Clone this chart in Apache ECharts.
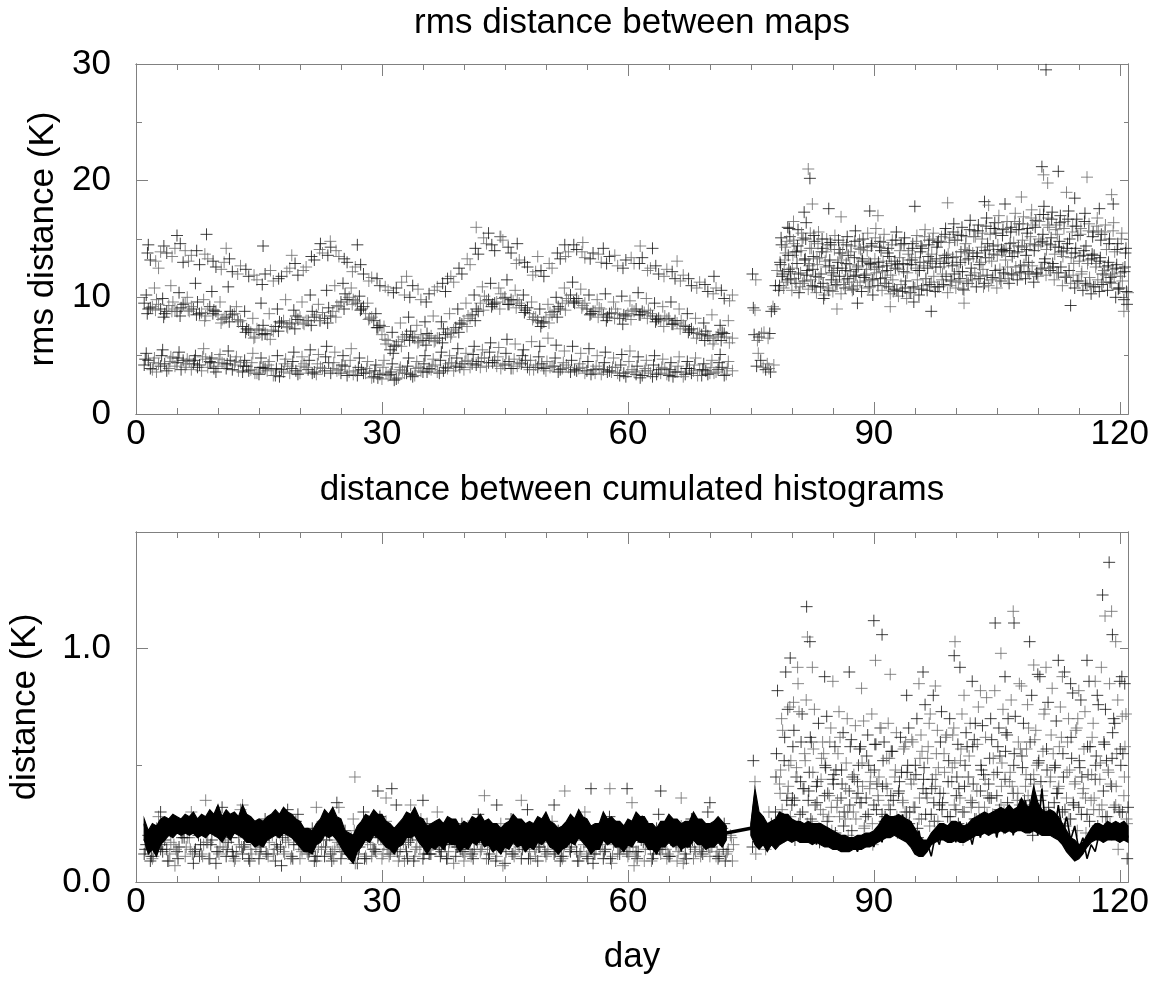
<!DOCTYPE html>
<html><head><meta charset="utf-8">
<script src="https://cdn.jsdelivr.net/npm/echarts@6/dist/echarts.min.js"></script>
<style>html,body{margin:0;padding:0;background:#fff}#c{width:1158px;height:981px}</style>
</head><body><div id="c"></div>
<script>
// ---------------- axis / tick data ----------------
const dayMin = 0, dayMax = 121;
const xTickValues = [0, 30, 60, 90, 120];
const xTickLabels = ['0', '30', '60', '90', '120'];
const topYMax = 30, topYTickValues = [0, 10, 20, 30], topYTickLabels = ['0', '10', '20', '30'];
const botYMax = 1.5, botYTickValues = [0, 1], botYTickLabels = ['0.0', '1.0'];
const topTitle = 'rms distance between maps';
const botTitle = 'distance between cumulated histograms';
const topYName = 'rms distance (K)';
const botYName = 'distance (K)';
const xName = 'day';

// ---------------- top panel: rms distance (K) ----------------
const topLowA_start = 1, topLowA_step = 1;
const topLowA = [4.2,3.8,4.1,3.9,4.4,4.0,4.3,3.7,4.5,4.1,3.9,4.2,3.6,3.8,3.4,3.7,3.3,3.6,3.9,3.5,3.8,3.4,3.7,3.9,3.5,3.6,3.3,3.5,3.2,3.0,3.4,3.1,3.5,3.3,3.6,3.8,3.5,3.9,4.1,3.8,4.3,4.0,4.4,4.1,4.2,3.9,4.3,3.8,4.0,3.7,4.1,3.9,3.6,3.9,3.7,3.5,3.8,3.6,3.3,3.6,3.4,3.7,3.2,3.5,3.3,3.6,3.4,3.7,3.3,3.5,3.8,3.4];
const topLowB_start = 1.5, topLowB_step = 1;
const topLowB = [4.6,3.6,4.3,4.8,3.8,4.5,4.0,4.7,3.9,4.4,4.6,3.7,4.1,3.5,4.0,3.8,3.2,4.1,3.7,4.3,3.5,4.0,4.4,3.7,4.1,3.4,3.8,3.6,3.1,3.5,2.9,3.7,3.4,4.0,3.6,4.2,3.7,4.4,4.0,4.6,4.2,4.8,4.4,3.9,4.5,4.1,4.6,3.8,4.3,4.0,3.6,4.2,3.8,4.0,3.4,3.9,3.6,4.0,3.5,3.8,3.1,3.7,3.4,3.9,3.2,3.6,3.9,3.3,3.7,3.5,4.0];
const topLowC_start = 1.25, topLowC_step = 1;
const topLowC = [5.2,4.8,5.5,4.9,5.3,4.7,5.0,5.6,4.8,5.1,5.4,4.9,4.6,5.2,4.8,4.5,5.0,4.7,5.3,4.9,5.5,5.1,5.8,5.3,5.0,5.6,4.8,4.5,4.2,4.6,4.3,4.0,4.8,4.5,5.0,4.7,5.3,5.0,5.6,5.2,5.8,5.5,6.1,5.7,6.4,6.0,5.5,6.2,5.8,6.5,5.9,5.4,5.8,5.2,5.6,5.0,5.3,4.8,5.1,5.4,4.9,4.6,5.0,4.7,4.4,4.9,4.5,4.8,4.3,4.6,5.1,4.5];
const topLowD_start = 1.75, topLowD_step = 1;
const topLowD = [3.9,4.3,3.7,4.1,4.6,3.8,4.2,4.0,3.6,4.3,3.8,4.4,3.7,3.5,3.9,3.3,3.8,3.5,3.4,4.0,3.6,3.9,3.5,3.8,3.3,3.7,3.5,3.1,3.4,3.3,3.0,3.5,3.2,3.7,3.9,3.6,4.0,3.7,4.3,4.0,4.5,4.1,4.6,4.3,3.9,4.4,4.0,4.2,3.9,4.1,3.8,4.0,3.7,3.5,3.8,3.4,3.7,3.5,3.2,3.6,3.3,3.5,3.8,3.4,3.6,3.2,3.5,3.8,3.4,3.6,3.3,3.7];
const topLowE_start = 1.125, topLowE_step = 1;
const topLowE = [4.7,4.4,5.0,4.5,4.8,4.3,4.6,4.9,4.4,4.7,4.3,4.5,4.1,4.4,4.0,4.2,3.9,4.3,4.5,4.1,4.6,4.3,4.9,4.4,4.2,4.6,4.0,3.9,3.7,4.0,3.6,3.8,4.1,3.9,4.3,4.1,4.6,4.3,4.8,4.5,5.1,4.8,5.3,4.9,5.2,4.7,5.0,4.6,4.9,4.5,4.8,4.4,4.6,4.3,4.5,4.1,4.4,4.0,4.2,4.5,4.1,3.9,4.2,4.0,3.8,4.1,3.9,4.2,3.8,4.0,4.4,3.9];
const topMidA_start = 1, topMidA_step = 1;
const topMidA = [9.5,9.2,9.0,9.3,8.8,9.5,9.0,8.7,9.2,8.5,8.3,8.6,7.5,7.0,7.2,6.8,7.5,8.0,7.8,8.3,8.0,8.5,8.2,8.8,9.6,10.0,9.5,8.6,8.0,6.8,5.5,6.2,6.8,6.5,6.3,6.7,6.5,7.0,7.4,8.0,8.5,9.5,9.8,9.6,10.0,9.7,9.3,8.6,8.0,8.3,8.8,9.5,10.2,9.7,9.0,8.8,8.5,8.7,8.2,8.6,9.0,8.7,8.4,8.0,8.2,7.8,7.5,7.0,6.8,6.5,6.8,6.6];
const topMidB_start = 1.5, topMidB_step = 1;
const topMidB = [9.0,9.8,8.6,9.6,9.1,8.8,9.6,8.4,8.9,8.1,8.8,7.9,7.3,6.6,7.6,7.2,7.9,7.4,8.4,7.7,8.8,8.0,9.1,9.3,10.3,9.8,9.0,8.2,7.4,6.0,5.8,6.6,7.1,6.2,6.9,6.3,7.3,6.9,7.8,8.4,9.0,10.1,9.4,10.3,9.4,9.8,8.9,8.3,7.8,8.7,9.2,9.9,9.5,9.3,8.6,9.1,8.3,9.0,8.5,8.9,8.5,8.9,8.1,8.4,7.7,8.0,7.2,6.9,7.1,6.3,7.0];
const topMidC_start = 1.25, topMidC_step = 1;
const topMidC = [10.2,10.8,9.9,11.0,10.4,10.0,11.2,9.8,10.5,9.6,10.9,9.2,8.8,8.2,9.5,8.6,9.0,9.8,8.9,9.6,10.2,9.4,10.6,11.0,11.2,10.8,10.1,9.5,8.6,7.5,7.0,7.8,8.3,7.6,7.9,8.4,7.9,8.6,9.0,9.5,10.2,10.9,11.2,10.8,11.5,10.6,10.2,9.6,9.0,9.4,10.0,10.8,11.3,10.7,10.2,9.8,10.3,9.6,10.1,9.7,10.4,9.9,9.5,9.2,9.6,9.0,8.6,8.2,7.8,8.5,7.6,8.0];
const topMidD_start = 1.75, topMidD_step = 1;
const topMidD = [9.1,9.4,8.8,9.0,9.4,9.2,8.6,9.0,8.8,8.2,8.5,8.0,7.2,7.3,6.9,7.1,7.8,7.7,8.1,8.0,8.3,8.7,8.4,9.2,9.8,9.7,9.2,8.3,7.6,6.3,5.9,6.4,6.6,6.8,6.5,6.5,6.8,7.2,7.7,8.2,8.8,9.7,9.5,9.9,9.8,9.5,9.1,8.3,7.9,8.5,9.0,9.7,9.9,9.5,8.8,9.0,8.6,8.6,8.4,8.8,8.8,8.6,8.2,8.1,8.0,7.6,7.3,6.9,6.7,6.6,6.9,6.5];
const topMidE_start = 1.375, topMidE_step = 1;
const topMidE = [8.6,8.9,8.3,8.8,8.4,8.9,8.5,8.0,8.6,7.8,7.9,8.1,7.0,6.5,6.8,6.4,7.1,7.5,7.3,7.8,7.6,8.0,7.8,8.3,9.0,9.4,8.9,8.1,7.4,6.4,5.2,5.8,6.3,6.1,5.9,6.2,6.1,6.6,7.0,7.5,8.0,8.9,9.2,9.0,9.4,9.1,8.7,8.1,7.5,7.8,8.3,8.9,9.6,9.1,8.5,8.3,8.0,8.2,7.7,8.1,8.5,8.2,7.9,7.5,7.7,7.3,7.0,6.5,6.3,6.0,6.3,6.1];
const topUpA_start = 1.75, topUpA_step = 1;
const topUpA = [13.2,12.5,13.8,14.2,13.0,13.6,12.8,13.3,12.6,13.0,12.2,12.7,11.8,11.5,12.0,11.4,11.8,12.5,11.9,12.6,13.2,13.8,14.3,13.5,13.0,12.6,12.0,11.7,11.0,10.6,10.8,10.2,11.0,9.8,10.3,10.9,10.5,11.3,12.0,12.8,13.7,14.6,14.0,14.9,13.8,13.2,12.6,12.2,11.8,12.5,13.3,13.9,14.1,13.4,13.8,13.0,13.5,12.7,13.2,12.9,13.4,12.5,12.0,12.4,11.6,11.9,11.0,11.3,10.5,10.8,9.9,10.2];
const topUpB_start = 1.4, topUpB_step = 1;
const topUpB = [13.8,13.1,14.4,13.5,14.6,13.1,14.0,13.7,13.1,12.4,13.3,12.0,12.4,11.9,11.1,12.3,11.6,12.2,12.9,12.3,13.5,14.1,13.6,14.0,13.3,12.2,12.8,11.4,11.6,10.9,10.4,11.3,10.0,10.7,9.6,10.6,11.2,11.8,12.5,13.3,14.2,15.1,14.5,15.2,14.3,12.9,13.0,11.9,12.3,12.9,13.8,13.5,14.5,13.9,13.3,13.7,12.9,13.6,12.5,13.4,12.9,12.3,12.7,11.8,12.2,11.4,11.6,10.8,11.1,10.3,10.6,9.7];
const topUpPeaks = [[1.5,14.5],[3,13.9],[5,15.3],[6,14.0],[8.6,15.4],[11,14.2],[15.5,14.4],[19,13.6],[22.5,14.6],[23.7,14.8],[27,14.5],[33,11.8],[38,11.6],[41.5,16.0],[43,15.5],[44.5,15.2],[46.5,14.6],[49,13.5],[52.3,14.5],[54.5,14.7],[57,14.2],[61.5,14.4],[63,14.2],[66,13.1],[70.5,11.8]];
const topGapPts = [[75.2,12.0],[75.6,11.5],[75.3,9.1],[75.5,8.9],[75.4,6.8],[75.8,6.3],[76.0,6.6],[75.9,5.2],[76.2,4.6],[76.5,4.0],[76.8,3.8],[77.0,4.3],[77.3,6.9],[77.1,6.5],[77.5,8.8],[77.7,9.2],[77.4,3.6],[77.8,4.2],[78.0,11.0],[78.2,12.3],[78.4,10.6],[76.6,7.0],[77.9,9.0],[76.3,6.9],[75.7,4.1],[77.2,3.9]];
const topLateA_start = 78.5, topLateA_step = 0.5;
const topLateA = [11.0,10.8,11.5,10.6,11.2,10.9,11.4,10.7, 11.0,10.4,10.9,10.2,10.6,10.5,11.1,10.3, 10.8,11.3,10.7,11.0,10.5,11.4,10.9,11.6, 11.0,10.6,11.2,10.3,10.7,10.1,10.5,9.9, 10.4,10.8,10.2,11.0,10.6,11.3,10.5,10.9, 11.1,10.4,11.4,10.8,11.6,10.6,11.2,11.5, 10.9,11.8,11.2,11.0,11.7,10.8,11.4,12.0, 11.2,11.9,11.5,12.2,11.6,12.0,11.3,11.8, 12.5,11.9,12.3,11.5,12.1,11.0,11.7,11.2, 10.8,11.4,10.6,11.0,10.3,10.9,10.5,11.3, 10.6,11.2,10.0,10.8,9.8,10.4];
const topLateB_start = 78.625, topLateB_step = 0.5;
const topLateB = [12.8,13.2,12.4,13.6,12.9,14.0,13.3,12.7, 13.5,12.8,13.9,12.6,13.2,12.3,13.0,12.5, 12.9,12.2,13.4,12.7,13.1,12.4,12.8,13.3, 12.6,13.1,12.3,12.9,12.5,13.4,12.2,12.8, 13.2,12.5,13.0,12.7,13.5,12.9,13.3,12.6, 13.6,13.0,13.4,12.8,13.9,13.2,14.0,13.5, 13.8,14.3,13.4,14.1,13.7,14.5,13.9,14.2, 14.6,13.8,14.4,14.9,14.1,15.2,14.5,15.0, 15.4,14.6,15.1,14.3,14.8,14.0,14.6,13.8, 14.2,13.5,14.0,13.2,13.7,12.9,13.4,12.6, 13.0,12.4,12.8,12.1,12.6,12.2];
const topLateC_start = 78.75, topLateC_step = 0.5;
const topLateC = [14.5,13.8,15.2,14.6,15.8,14.9,16.4,15.5, 14.8,15.6,14.2,15.0,14.5,15.3,14.1,14.7, 15.2,14.4,15.7,14.9,14.3,15.5,14.6,15.9, 14.8,15.4,14.2,14.9,15.6,14.5,15.1,14.0, 14.6,15.3,14.4,15.8,14.9,15.5,14.7,15.2, 15.9,15.1,16.3,15.4,16.0,15.2,16.6,15.7, 16.2,15.5,16.8,15.9,16.4,17.0,15.8,16.5, 16.0,17.2,16.3,16.9,15.9,17.5,16.6,17.1, 17.8,16.8,17.3,16.2,17.0,16.5,17.4,16.1, 16.7,15.9,17.2,16.3,15.6,16.8,15.4,16.2, 15.0,16.4,14.6,15.5,14.2,15.1];
const topLateD_start = 78.875, topLateD_step = 0.5;
const topLateD = [12.0,14.8,11.6,13.9,10.4,15.1,12.3,14.2, 11.8,13.4,9.9,14.5,12.1,11.3,13.8,11.5, 13.6,10.6,12.4,14.1,11.9,13.0,10.2,12.6, 14.0,11.7,13.5,10.5,12.8,14.6,11.4,13.2, 9.6,12.3,14.2,11.6,13.1,10.9,14.8,12.0, 13.4,11.5,14.9,12.2,10.7,13.8,12.5,15.2, 12.8,10.9,14.6,13.1,15.5,12.4,14.0,11.6, 13.5,15.8,12.7,14.4,13.0,16.2,12.1,14.7, 13.3,16.0,12.6,15.4,13.9,11.8,15.0,12.9, 15.3,12.2,14.4,11.1,13.6,15.7,12.0,14.1, 11.7,13.9,10.8,12.5,9.4,13.1];
const topLateE_start = 78.5625, topLateE_step = 0.5;
const topLateE = [13.0,12.2,13.6,12.5,13.9,12.1,13.2,12.9, 12.4,13.3,12.0,13.1,12.7,11.9,12.5,13.2, 12.3,12.8,11.8,12.6,13.3,12.0,12.9,12.4, 13.0,12.2,12.7,11.9,13.1,12.4,12.9,12.1, 12.8,13.4,12.3,13.0,12.5,13.7,12.6,13.1, 12.9,13.7,12.7,13.5,13.0,14.1,13.3,13.8, 13.5,13.0,14.0,13.4,14.4,13.6,14.1,13.2, 14.0,14.7,13.9,14.3,13.6,14.6,14.0,14.4, 14.8,14.1,14.5,13.7,14.3,13.5,14.2,13.4, 13.8,13.1,13.6,12.9,13.3,12.6,13.1,12.3, 12.7,12.0,12.5,11.8,12.2,11.6];
const topLateF_start = 78.8125, topLateF_step = 0.5;
const topLateF = [11.8,11.3,12.2,11.6,12.0,11.2,11.9,11.5, 10.9,11.7,11.2,10.8,11.5,11.0,11.8,11.1, 11.6,10.9,11.9,11.3,11.7,10.8,11.5,12.1, 11.6,11.2,10.9,11.5,10.6,11.1,10.8,10.4, 10.9,11.5,10.7,11.6,11.1,11.8,10.9,11.5, 11.8,11.0,12.0,11.3,12.2,11.4,11.9,12.1, 11.6,12.4,11.9,11.5,12.3,11.6,12.1,12.6, 12.0,12.6,12.1,12.8,12.2,12.7,12.0,12.4, 13.0,12.5,12.9,12.1,12.6,11.7,12.3,11.9, 11.4,12.0,11.2,11.7,10.9,11.5,11.1,11.9, 11.3,11.8,10.7,11.4,10.5,11.0];
const topLateG_start = 78.6875, topLateG_step = 0.5;
const topLateG = [15.1,14.3,15.9,14.9,14.4,15.5,15.0,14.2, 15.3,14.6,15.0,13.9,14.7,14.1,14.9,13.8, 14.5,13.9,14.8,14.2,15.0,14.0,14.4,15.1, 14.3,14.7,13.8,14.5,14.9,14.0,14.6,13.7, 14.2,14.8,13.9,15.2,14.5,15.0,14.3,14.8, 15.4,14.7,15.6,14.9,15.3,14.6,15.8,15.2, 15.7,15.0,16.1,15.4,15.9,16.4,15.3,15.9, 15.6,16.5,15.8,16.3,15.5,16.8,16.0,16.5, 17.1,16.2,16.7,15.8,16.4,15.9,16.7,15.6, 16.1,15.4,16.5,15.7,15.2,16.1,14.9,15.6, 14.6,15.7,14.1,15.0,13.8,14.6];
const topLateOut = [[79.5,16.0],[80.2,16.5],[81.5,17.3],[82,21.0],[82.2,20.2],[82.5,18.0],[84.5,17.6],[86,16.9],[89.5,17.4],[90.5,17.0],[95,17.8],[99,18.1],[103.5,18.2],[104,17.9],[106,18.0],[108,18.6],[110.5,21.2],[110.7,20.5],[111,29.5],[111.2,19.8],[112.5,20.8],[113.5,19.0],[114.5,18.5],[116,20.3],[117.5,17.6],[119,18.8],[119.2,18.0],[85.5,9.0],[88,9.5],[92,9.2],[97,8.8],[101,9.5],[114,9.3],[120.5,8.8]];

// ---------------- bottom panel: distance (K) ----------------
const botLowA_start = 1, botLowA_step = 1;
const botLowA = [0.12,0.10,0.14,0.09,0.13,0.11,0.08,0.12,0.10,0.13,0.11,0.09,0.12,0.14,0.10,0.12,0.09,0.13,0.11,0.10,0.12,0.09,0.11,0.13,0.10,0.12,0.08,0.11,0.14,0.10,0.12,0.09,0.13,0.11,0.10,0.12,0.14,0.10,0.11,0.09,0.12,0.13,0.10,0.11,0.08,0.12,0.10,0.13,0.09,0.11,0.12,0.10,0.13,0.09,0.11,0.12,0.10,0.08,0.12,0.11,0.13,0.09,0.10,0.12,0.11,0.09,0.12,0.10,0.13,0.11,0.10,0.12];
const botLowB_start = 1.25, botLowB_step = 1;
const botLowB = [0.16,0.18,0.13,0.17,0.15,0.19,0.14,0.16,0.18,0.15,0.17,0.13,0.16,0.19,0.15,0.17,0.14,0.18,0.16,0.13,0.17,0.15,0.18,0.14,0.16,0.19,0.15,0.17,0.13,0.16,0.18,0.14,0.17,0.15,0.19,0.16,0.13,0.17,0.15,0.18,0.14,0.16,0.19,0.15,0.17,0.13,0.16,0.18,0.15,0.14,0.17,0.16,0.19,0.13,0.15,0.17,0.14,0.16,0.18,0.15,0.13,0.17,0.16,0.14,0.18,0.15,0.17,0.13,0.16,0.15,0.18,0.14];
const botLowC_start = 1.5, botLowC_step = 1;
const botLowC = [0.20,0.23,0.18,0.25,0.21,0.19,0.24,0.22,0.26,0.20,0.23,0.19,0.25,0.21,0.18,0.24,0.22,0.20,0.26,0.19,0.23,0.21,0.25,0.18,0.22,0.27,0.20,0.24,0.19,0.26,0.21,0.23,0.18,0.22,0.25,0.20,0.23,0.19,0.21,0.24,0.18,0.22,0.20,0.25,0.19,0.23,0.21,0.18,0.24,0.20,0.22,0.19,0.25,0.21,0.18,0.23,0.20,0.24,0.19,0.22,0.20,0.18,0.23,0.21,0.19,0.24,0.20,0.22,0.18,0.21,0.23,0.20];
const botLowD_start = 1.75, botLowD_step = 1;
const botLowD = [0.09,0.28,0.14,0.07,0.22,0.30,0.11,0.17,0.08,0.25,0.13,0.31,0.10,0.19,0.27,0.12,0.07,0.23,0.29,0.15,0.09,0.26,0.12,0.32,0.17,0.08,0.30,0.11,0.28,0.14,0.33,0.09,0.20,0.27,0.12,0.30,0.16,0.08,0.25,0.13,0.29,0.10,0.22,0.07,0.27,0.15,0.31,0.11,0.18,0.26,0.09,0.24,0.13,0.30,0.08,0.21,0.28,0.12,0.17,0.07,0.26,0.14,0.29,0.10,0.23,0.08,0.27,0.15,0.30,0.11,0.25,0.09];
const botLowE_start = 1.125, botLowE_step = 1;
const botLowE = [0.14,0.11,0.16,0.12,0.10,0.15,0.13,0.11,0.16,0.12,0.14,0.10,0.15,0.12,0.13,0.11,0.16,0.12,0.10,0.14,0.13,0.11,0.15,0.10,0.13,0.16,0.12,0.10,0.14,0.12,0.15,0.11,0.10,0.14,0.12,0.16,0.11,0.13,0.15,0.12,0.10,0.14,0.12,0.16,0.13,0.11,0.14,0.10,0.15,0.12,0.13,0.11,0.15,0.12,0.10,0.14,0.13,0.11,0.15,0.12,0.10,0.14,0.12,0.15,0.11,0.13,0.10,0.14,0.12,0.15,0.11,0.13];
const botLowF_start = 1.625, botLowF_step = 1;
const botLowF = [0.18,0.15,0.21,0.16,0.19,0.14,0.20,0.17,0.22,0.15,0.19,0.16,0.21,0.14,0.18,0.20,0.15,0.17,0.21,0.16,0.19,0.14,0.20,0.17,0.15,0.22,0.18,0.16,0.20,0.14,0.19,0.17,0.21,0.15,0.18,0.20,0.16,0.22,0.14,0.19,0.17,0.21,0.15,0.18,0.20,0.16,0.19,0.14,0.21,0.17,0.15,0.20,0.18,0.16,0.21,0.14,0.19,0.17,0.20,0.15,0.18,0.16,0.21,0.14,0.19,0.17,0.15,0.20,0.16,0.18,0.14,0.19];
const botLowG_start = 1.875, botLowG_step = 1;
const botLowG = [0.11,0.17,0.09,0.14,0.19,0.12,0.16,0.10,0.13,0.18,0.11,0.15,0.09,0.17,0.12,0.14,0.19,0.10,0.16,0.13,0.11,0.18,0.09,0.15,0.12,0.17,0.10,0.14,0.19,0.11,0.13,0.16,0.09,0.18,0.12,0.15,0.10,0.17,0.13,0.11,0.19,0.14,0.09,0.16,0.12,0.18,0.10,0.15,0.13,0.17,0.11,0.14,0.09,0.18,0.12,0.16,0.10,0.15,0.13,0.11,0.17,0.09,0.14,0.12,0.16,0.10,0.18,0.11,0.15,0.13,0.09,0.16];
const botEarlyOut = [[3,0.30],[8.5,0.35],[10.5,0.32],[13,0.33],[18.5,0.31],[22,0.32],[24.5,0.34],[26.7,0.45],[29.5,0.39],[30.5,0.36],[31.2,0.40],[33.5,0.33],[35,0.35],[42.5,0.37],[44,0.33],[47,0.35],[51,0.33],[52.3,0.39],[55.5,0.40],[57.8,0.40],[59.9,0.40],[60.5,0.34],[64,0.39],[66.5,0.36],[70,0.34]];
const botLateA_start = 78, botLateA_step = 0.5;
const botLateA = [0.30,0.42,0.27,0.38,0.33,0.45,0.29,0.40,0.35,0.26,0.41,0.31,0.37,0.28,0.44,0.32,0.36,0.27,0.39,0.30,0.43,0.34,0.28,0.40,0.33,0.37,0.29,0.42,0.31,0.26,0.38,0.35,0.30,0.44,0.32,0.27,0.40,0.36,0.29,0.41,0.33,0.38,0.28,0.43,0.31,0.36,0.30,0.45,0.34,0.27,0.39,0.32,0.42,0.29,0.37,0.33,0.44,0.30,0.38,0.35,0.28,0.41,0.33,0.46,0.31,0.37,0.29,0.43,0.34,0.40,0.30,0.36,0.27,0.42,0.32,0.38,0.29,0.35,0.44,0.31,0.39,0.28,0.41,0.33,0.30,0.37,0.32];
const botLateB_start = 78.125, botLateB_step = 0.5;
const botLateB = [0.55,0.48,0.62,0.50,0.58,0.45,0.60,0.52,0.47,0.57,0.43,0.53,0.49,0.60,0.46,0.55,0.42,0.51,0.58,0.44,0.50,0.41,0.54,0.47,0.59,0.45,0.52,0.40,0.56,0.48,0.43,0.57,0.50,0.61,0.46,0.53,0.49,0.58,0.44,0.55,0.60,0.47,0.52,0.63,0.45,0.57,0.50,0.54,0.42,0.59,0.48,0.62,0.53,0.46,0.58,0.51,0.64,0.47,0.55,0.60,0.49,0.57,0.44,0.61,0.52,0.56,0.48,0.63,0.50,0.58,0.45,0.60,0.53,0.65,0.49,0.57,0.46,0.62,0.54,0.51,0.59,0.47,0.64,0.55,0.50,0.58,0.44];
const botLateC_start = 78.25, botLateC_step = 0.5;
const botLateC = [0.82,0.70,0.90,0.75,0.65,0.85,0.72,0.78,0.62,0.74,0.68,0.60,0.71,0.66,0.58,0.73,0.64,0.70,0.61,0.67,0.57,0.69,0.63,0.72,0.59,0.66,0.60,0.68,0.56,0.64,0.62,0.58,0.66,0.60,0.70,0.63,0.76,0.68,0.80,0.65,0.73,0.62,0.70,0.66,0.59,0.72,0.64,0.68,0.61,0.75,0.67,0.79,0.70,0.82,0.66,0.74,0.63,0.78,0.71,0.85,0.68,0.76,0.80,0.65,0.88,0.72,0.77,0.83,0.69,0.75,0.90,0.70,0.81,0.66,0.78,0.73,0.86,0.68,0.80,0.92,0.74,0.85,0.70,0.78,0.88,0.72,0.80];
const botLateD_start = 78.375, botLateD_step = 0.5;
const botLateD = [0.20,0.65,0.35,0.52,0.18,0.73,0.40,0.25,0.60,0.33,0.17,0.55,0.38,0.22,0.48,0.62,0.30,0.20,0.45,0.36,0.58,0.24,0.50,0.16,0.42,0.66,0.28,0.53,0.35,0.21,0.47,0.60,0.30,0.44,0.19,0.56,0.38,0.72,0.26,0.49,0.34,0.63,0.23,0.51,0.40,0.18,0.58,0.32,0.68,0.27,0.46,0.37,0.61,0.22,0.54,0.30,0.70,0.41,0.25,0.57,0.35,0.66,0.20,0.50,0.43,0.74,0.29,0.55,0.38,0.62,0.24,0.48,0.33,0.70,0.45,0.21,0.58,0.36,0.76,0.28,0.52,0.42,0.68,0.31,0.55,0.25,0.47];
const botLateE_start = 78.0625, botLateE_step = 0.5;
const botLateE = [0.45,0.38,0.52,0.41,0.36,0.49,0.43,0.55,0.39,0.47,0.34,0.44,0.50,0.37,0.42,0.35,0.48,0.40,0.33,0.46,0.38,0.51,0.36,0.43,0.48,0.35,0.41,0.53,0.37,0.45,0.39,0.34,0.47,0.42,0.50,0.36,0.44,0.53,0.40,0.46,0.38,0.55,0.43,0.49,0.37,0.52,0.41,0.45,0.58,0.39,0.50,0.44,0.36,0.53,0.47,0.41,0.56,0.43,0.50,0.38,0.54,0.46,0.60,0.42,0.51,0.39,0.57,0.45,0.49,0.41,0.55,0.47,0.62,0.43,0.52,0.40,0.58,0.46,0.50,0.44,0.60,0.48,0.53,0.41,0.57,0.45,0.50];
const botLateF_start = 78.3125, botLateF_step = 0.5;
const botLateF = [0.24,0.31,0.22,0.28,0.35,0.25,0.30,0.21,0.27,0.33,0.23,0.29,0.26,0.32,0.21,0.28,0.24,0.30,0.22,0.27,0.34,0.23,0.29,0.25,0.31,0.22,0.26,0.33,0.24,0.28,0.21,0.30,0.25,0.32,0.23,0.27,0.29,0.24,0.34,0.26,0.31,0.22,0.28,0.33,0.25,0.30,0.23,0.35,0.27,0.32,0.24,0.29,0.36,0.26,0.31,0.23,0.34,0.28,0.25,0.33,0.27,0.37,0.24,0.30,0.35,0.26,0.32,0.28,0.38,0.25,0.31,0.27,0.34,0.22,0.29,0.36,0.26,0.31,0.24,0.33,0.28,0.25,0.32,0.23,0.30,0.27,0.34];
const botLateOut = [[75.3,0.52],[75.5,0.43],[75.2,0.15],[75.6,0.12],[76.2,0.19],[76.8,0.14],[77.5,0.25],[77.2,0.30],[79.8,0.96],[80.7,0.92],[79.5,0.74],[80.2,0.77],[81.8,1.18],[81.9,1.05],[82.2,1.03],[82.5,0.92],[84,0.88],[85,0.86],[87,0.90],[88.5,0.83],[90,1.12],[90.2,0.95],[91,1.06],[92,0.89],[94,0.80],[95.5,0.85],[96,0.90],[97.5,0.84],[99.8,0.97],[99.9,1.03],[100.5,0.92],[101,0.80],[102,0.86],[103,0.82],[104.8,1.11],[105.5,0.98],[106,0.88],[107,1.16],[107.1,1.11],[108,0.84],[109,1.03],[109.5,0.93],[110,0.89],[111,0.92],[112.5,0.95],[113,0.88],[114,0.85],[115,0.82],[116,0.95],[117,0.86],[117.9,1.23],[118.2,1.14],[118.7,1.37],[119,1.16],[119.1,1.06],[119.5,1.03],[120,0.86],[120.3,0.71],[120.6,0.85],[119.8,0.14],[120.9,0.10]];

// thick black curve: upper / lower envelope of the fast-oscillating line, read every half day
const bandEarly_start = 1, bandEarly_step = 0.5;
const bandEarlyHi = [0.27,0.22,0.25,0.24,0.27,0.28,0.27,0.29,0.28,0.27,0.29,0.28,0.30,0.27,0.29,0.28,0.31,0.29,0.33,0.28,0.31,0.29,0.30,0.28,0.33,0.29,0.28,0.26,0.27,0.26,0.28,0.29,0.31,0.29,0.32,0.30,0.29,0.27,0.26,0.23,0.23,0.22,0.25,0.27,0.31,0.29,0.32,0.28,0.27,0.22,0.21,0.20,0.24,0.26,0.29,0.28,0.31,0.29,0.29,0.26,0.25,0.23,0.25,0.27,0.30,0.29,0.32,0.28,0.27,0.24,0.25,0.26,0.27,0.25,0.28,0.27,0.27,0.24,0.26,0.25,0.28,0.27,0.29,0.26,0.27,0.25,0.25,0.23,0.25,0.26,0.29,0.27,0.27,0.25,0.26,0.25,0.28,0.27,0.30,0.26,0.25,0.23,0.24,0.26,0.29,0.27,0.31,0.28,0.27,0.24,0.25,0.25,0.30,0.27,0.28,0.26,0.26,0.24,0.27,0.26,0.30,0.28,0.28,0.25,0.25,0.23,0.26,0.26,0.29,0.27,0.27,0.25,0.26,0.26,0.30,0.27,0.27,0.25,0.25,0.26,0.28,0.26,0.24];
const bandEarlyLo = [0.18,0.12,0.14,0.11,0.16,0.18,0.20,0.19,0.21,0.20,0.21,0.20,0.21,0.19,0.20,0.19,0.21,0.20,0.19,0.17,0.20,0.18,0.21,0.20,0.19,0.17,0.17,0.15,0.16,0.15,0.18,0.19,0.20,0.19,0.21,0.20,0.19,0.17,0.15,0.13,0.13,0.12,0.16,0.17,0.20,0.19,0.20,0.18,0.15,0.12,0.10,0.08,0.13,0.15,0.18,0.17,0.20,0.19,0.17,0.15,0.14,0.12,0.15,0.16,0.19,0.19,0.20,0.17,0.15,0.12,0.15,0.14,0.16,0.14,0.17,0.16,0.16,0.13,0.15,0.14,0.17,0.16,0.18,0.15,0.16,0.13,0.14,0.12,0.15,0.14,0.17,0.15,0.16,0.13,0.15,0.14,0.17,0.16,0.18,0.15,0.14,0.12,0.14,0.15,0.17,0.16,0.19,0.17,0.15,0.12,0.14,0.14,0.18,0.16,0.17,0.15,0.15,0.13,0.16,0.15,0.18,0.17,0.17,0.14,0.14,0.12,0.15,0.15,0.17,0.15,0.16,0.14,0.15,0.15,0.18,0.16,0.16,0.14,0.15,0.15,0.17,0.15,0.18];
const bandLate_start = 75, bandLate_step = 0.5;
const bandLateHi = [0.25,0.40,0.30,0.28,0.25,0.26,0.27,0.30,0.29,0.29,0.27,0.26,0.26,0.25,0.26,0.25,0.25,0.25,0.24,0.23,0.22,0.21,0.20,0.20,0.19,0.19,0.20,0.20,0.21,0.21,0.22,0.24,0.27,0.29,0.28,0.28,0.29,0.28,0.27,0.26,0.23,0.20,0.18,0.18,0.21,0.23,0.25,0.25,0.24,0.26,0.26,0.25,0.24,0.25,0.27,0.28,0.29,0.30,0.29,0.30,0.31,0.32,0.31,0.33,0.31,0.32,0.36,0.33,0.32,0.41,0.34,0.31,0.30,0.31,0.30,0.28,0.25,0.22,0.19,0.18,0.16,0.17,0.20,0.23,0.25,0.25,0.24,0.26,0.25,0.26,0.25,0.26,0.24];
const bandLateLo = [0.20,0.16,0.14,0.16,0.13,0.16,0.14,0.16,0.17,0.18,0.17,0.18,0.17,0.17,0.17,0.16,0.17,0.16,0.15,0.15,0.14,0.14,0.13,0.13,0.13,0.14,0.14,0.14,0.15,0.15,0.16,0.17,0.18,0.19,0.19,0.20,0.19,0.18,0.17,0.15,0.12,0.11,0.11,0.13,0.16,0.17,0.18,0.18,0.17,0.17,0.18,0.17,0.17,0.18,0.19,0.20,0.20,0.21,0.20,0.21,0.21,0.22,0.21,0.22,0.21,0.22,0.22,0.21,0.21,0.22,0.21,0.20,0.20,0.20,0.19,0.18,0.16,0.13,0.11,0.09,0.10,0.12,0.15,0.17,0.18,0.18,0.17,0.18,0.18,0.18,0.17,0.18,0.17];
const bandBridge = [[72, 0.21], [75, 0.23]];
// the same curve's fast spikes (zig-zag read every half day)
const spikeEarly_start = 1, spikeEarly_step = 0.5;
const spikeEarly = [0.25,0.14,0.24,0.12,0.22,0.18,0.26,0.20,0.27,0.21,0.27,0.22,0.28,0.21,0.27,0.20,0.29,0.22,0.31,0.18,0.30,0.20,0.28,0.22,0.31,0.19,0.27,0.17,0.24,0.16,0.26,0.20,0.29,0.21,0.30,0.22,0.28,0.19,0.24,0.14,0.20,0.13,0.22,0.18,0.29,0.20,0.30,0.19,0.26,0.14,0.18,0.09,0.20,0.16,0.26,0.18,0.29,0.20,0.27,0.16,0.22,0.13,0.20,0.16,0.28,0.20,0.30,0.18,0.25,0.13,0.20,0.15,0.23,0.14,0.26,0.17,0.24,0.13,0.22,0.15,0.25,0.17,0.27,0.16,0.24,0.14,0.22,0.12,0.21,0.15,0.26,0.16,0.24,0.13,0.23,0.14,0.25,0.17,0.27,0.15,0.22,0.12,0.20,0.15,0.26,0.16,0.28,0.18,0.24,0.12,0.21,0.14,0.27,0.17,0.25,0.15,0.22,0.13,0.24,0.16,0.27,0.18,0.25,0.14,0.21,0.12,0.22,0.15,0.26,0.16,0.24,0.13,0.23,0.15,0.27,0.17,0.24,0.14,0.22,0.16,0.25,0.15,0.21];
const spikeLate_start = 75, spikeLate_step = 0.5;
const spikeLate = [0.23,0.38,0.16,0.28,0.14,0.26,0.15,0.30,0.17,0.29,0.18,0.26,0.17,0.25,0.18,0.24,0.16,0.25,0.17,0.23,0.15,0.20,0.14,0.19,0.14,0.18,0.13,0.19,0.15,0.20,0.15,0.23,0.17,0.28,0.19,0.27,0.20,0.29,0.19,0.26,0.17,0.22,0.12,0.17,0.11,0.20,0.16,0.25,0.18,0.24,0.17,0.26,0.18,0.23,0.16,0.25,0.19,0.28,0.20,0.30,0.19,0.28,0.21,0.32,0.20,0.29,0.22,0.35,0.21,0.31,0.20,0.40,0.22,0.30,0.20,0.33,0.21,0.28,0.18,0.24,0.14,0.19,0.10,0.16,0.13,0.21,0.17,0.25,0.18,0.24,0.17,0.26,0.19];

// ---------------- build chart ----------------
const FONT = '"Liberation Sans", Arial, Helvetica, sans-serif';
const FS = 35;
const AXC = '#808080';
const PLUS = 'path://M5,0L5,10M0,5L10,5';
function seq(vals, start, step) { return vals.map((v, i) => [start + i * step, v]); }

function crosses(pts, gi) {
  return {
    type: 'scatter', xAxisIndex: gi * 4, yAxisIndex: gi * 4, silent: true,
    symbol: PLUS, symbolSize: 12, z: 2,
    itemStyle: { color: 'none', borderWidth: 1 },
    data: pts.map((p, i) => ({ value: p, itemStyle: { color: 'none', borderColor: (i % 2 === 0) ? '#111' : '#6a6a6a', borderWidth: 1 } }))
  };
}

function mkX(gi, pos, interval, len, labels, name) {
  return {
    type: 'value', gridIndex: gi, position: pos, min: dayMin, max: dayMax, interval: interval,
    axisLine: { show: true, onZero: false, lineStyle: { color: AXC, width: 1 } },
    axisTick: { show: true, inside: true, length: len, lineStyle: { color: AXC, width: 1 } },
    axisLabel: { show: labels, margin: 3, color: '#000', fontSize: FS, fontFamily: FONT,
      formatter: v => { const k = xTickValues.indexOf(v); return k >= 0 ? xTickLabels[k] : ''; } },
    splitLine: { show: false },
    name: name || '', nameLocation: 'middle', nameGap: 58,
    nameTextStyle: { color: '#000', fontSize: FS, fontFamily: FONT }
  };
}
function mkY(gi, pos, ymax, interval, len, labels, tv, tl, name, gap) {
  return {
    type: 'value', gridIndex: gi, position: pos, min: 0, max: ymax, interval: interval,
    axisLine: { show: true, onZero: false, lineStyle: { color: AXC, width: 1 } },
    axisTick: { show: true, inside: true, length: len, lineStyle: { color: AXC, width: 1 } },
    axisLabel: { show: labels, margin: 25, color: '#000', fontSize: FS, fontFamily: FONT,
      formatter: v => { const k = tv.findIndex(t => Math.abs(t - v) < 1e-9); return k >= 0 ? tl[k] : ''; } },
    splitLine: { show: false },
    name: name || '', nameLocation: 'middle', nameGap: gap || 0,
    nameTextStyle: { color: '#000', fontSize: FS, fontFamily: FONT }
  };
}

const chart = echarts.init(document.getElementById('c'), null, { renderer: 'canvas' });

const series = [];
[
  seq(topLowA, topLowA_start, topLowA_step), seq(topLowB, topLowB_start, topLowB_step), seq(topLowC, topLowC_start, topLowC_step),
  seq(topLowD, topLowD_start, topLowD_step), seq(topLowE, topLowE_start, topLowE_step),
  seq(topMidA, topMidA_start, topMidA_step), seq(topMidB, topMidB_start, topMidB_step), seq(topMidC, topMidC_start, topMidC_step),
  seq(topMidD, topMidD_start, topMidD_step), seq(topMidE, topMidE_start, topMidE_step),
  seq(topUpA, topUpA_start, topUpA_step), seq(topUpB, topUpB_start, topUpB_step), topUpPeaks, topGapPts,
  seq(topLateA, topLateA_start, topLateA_step), seq(topLateB, topLateB_start, topLateB_step),
  seq(topLateC, topLateC_start, topLateC_step), seq(topLateD, topLateD_start, topLateD_step),
  seq(topLateE, topLateE_start, topLateE_step), seq(topLateF, topLateF_start, topLateF_step),
  seq(topLateG, topLateG_start, topLateG_step), topLateOut
].forEach(p => series.push(crosses(p, 0)));
[
  seq(botLowA, botLowA_start, botLowA_step), seq(botLowB, botLowB_start, botLowB_step),
  seq(botLowC, botLowC_start, botLowC_step), seq(botLowD, botLowD_start, botLowD_step),
  seq(botLowE, botLowE_start, botLowE_step), seq(botLowF, botLowF_start, botLowF_step),
  seq(botLowG, botLowG_start, botLowG_step), botEarlyOut,
  seq(botLateA, botLateA_start, botLateA_step), seq(botLateB, botLateB_start, botLateB_step),
  seq(botLateC, botLateC_start, botLateC_step), seq(botLateD, botLateD_start, botLateD_step),
  seq(botLateE, botLateE_start, botLateE_step), seq(botLateF, botLateF_start, botLateF_step), botLateOut
].forEach(p => series.push(crosses(p, 1)));

// filled band between lower and upper envelope, mapped through the axes with api.coord
function band(hi, lo, start, step) {
  const n = Math.min(hi.length, lo.length);
  return {
    type: 'custom', xAxisIndex: 4, yAxisIndex: 4, silent: true, z: 5,
    data: [[start, lo[0]]],
    renderItem: function (params, api) {
      const pts = [];
      for (let i = 0; i < n; i++) pts.push(api.coord([start + i * step, hi[i]]));
      for (let i = n - 1; i >= 0; i--) pts.push(api.coord([start + i * step, lo[i]]));
      return { type: 'polygon', shape: { points: pts }, style: { fill: '#000', stroke: '#000', lineWidth: 1.2, lineJoin: 'miter' } };
    }
  };
}
series.push(band(bandEarlyHi, bandEarlyLo, bandEarly_start, bandEarly_step));
series.push(band(bandLateHi, bandLateLo, bandLate_start, bandLate_step));
series.push({ type: 'line', xAxisIndex: 4, yAxisIndex: 4, silent: true, z: 6, showSymbol: false, symbol: 'none',
  lineStyle: { color: '#000', width: 1.6 },
  data: seq(spikeEarly, spikeEarly_start, spikeEarly_step).concat(seq(spikeLate, spikeLate_start, spikeLate_step)) });
series.push({ type: 'line', xAxisIndex: 4, yAxisIndex: 4, silent: true, z: 5, showSymbol: false, symbol: 'none',
  lineStyle: { color: '#000', width: 3.5 }, data: bandBridge });

const option = {
  animation: false,
  backgroundColor: '#fff',
  textStyle: { fontFamily: FONT },
  grid: [
    { left: 136, top: 64, width: 992, height: 350, containLabel: false, outerBoundsMode: 'none' },
    { left: 136, top: 532, width: 992, height: 350, containLabel: false, outerBoundsMode: 'none' }
  ],
  xAxis: [
    mkX(0, 'bottom', 30, 12, true), mkX(0, 'bottom', 5, 6, false), mkX(0, 'top', 30, 12, false), mkX(0, 'top', 5, 6, false),
    mkX(1, 'bottom', 30, 12, true, xName), mkX(1, 'bottom', 5, 6, false), mkX(1, 'top', 30, 12, false), mkX(1, 'top', 5, 6, false)
  ],
  yAxis: [
    mkY(0, 'left', topYMax, 10, 12, true, topYTickValues, topYTickLabels, topYName, 74),
    mkY(0, 'left', topYMax, 5, 6, false, [], []),
    mkY(0, 'right', topYMax, 10, 8, false, [], []),
    mkY(0, 'right', topYMax, 5, 4, false, [], []),
    mkY(1, 'left', botYMax, 1, 12, true, botYTickValues, botYTickLabels, botYName, 93),
    mkY(1, 'left', botYMax, 0.5, 6, false, [], []),
    mkY(1, 'right', botYMax, 1, 8, false, [], []),
    mkY(1, 'right', botYMax, 0.5, 4, false, [], [])
  ],
  graphic: [
    { type: 'text', x: 632, y: 23, silent: true, style: { text: topTitle, fill: '#000', font: FS + 'px ' + FONT, textAlign: 'center', textVerticalAlign: 'middle' } },
    { type: 'text', x: 632, y: 490, silent: true, style: { text: botTitle, fill: '#000', font: FS + 'px ' + FONT, textAlign: 'center', textVerticalAlign: 'middle' } }
  ],
  series: series
};
chart.setOption(option);
</script></body></html>
